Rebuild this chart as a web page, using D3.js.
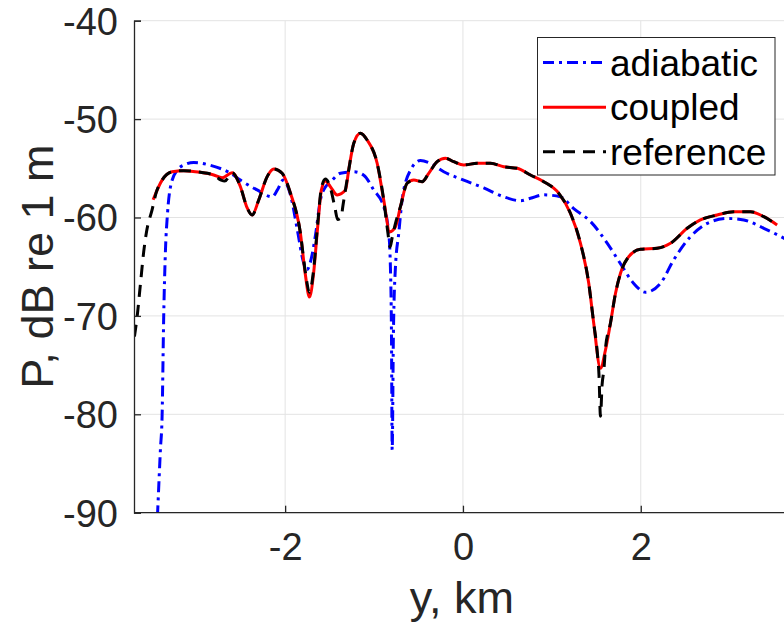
<!DOCTYPE html>
<html>
<head>
<meta charset="utf-8">
<script src="https://cdn.jsdelivr.net/npm/d3@7"></script>
<style>
  html, body { margin: 0; padding: 0; background: #ffffff; }
  svg { display: block; }
  text { font-family: "Liberation Sans", Arial, Helvetica, sans-serif; fill: #262626; }
</style>
</head>
<body>
<div id="chart"></div>
<script>
// ---------- data (y in km, P in dB re 1 m) ----------
const xTicks = [-2, 0, 2];
const yTicks = [-90, -80, -70, -60, -50, -40];
const seriesNames = ["adiabatic", "coupled", "reference"];

const adiabaticY = [-3.448, -3.433, -3.403, -3.384, -3.366, -3.346, -3.324, -3.290, -3.215, -3.121, -3.028, -2.840, -2.615, -2.503, -2.315, -2.146, -2.087, -2.022, -1.940, -1.862, -1.795, -1.753, -1.715, -1.659, -1.603, -1.547, -1.491, -1.378, -1.228, -1.116, -1.003, -0.891, -0.835, -0.816, -0.804, -0.796, -0.782, -0.759, -0.722, -0.684, -0.591, -0.478, -0.366, -0.216, 0.009, 0.234, 0.459, 0.647, 0.759, 0.909, 1.097, 1.246, 1.434, 1.622, 1.772, 1.921, 2.053, 2.221, 2.371, 2.559, 2.747, 2.972, 3.159, 3.384, 3.609, 3.706];
const adiabaticP = [-92.8, -89.7, -83.6, -80.2, -70.1, -63.3, -59.7, -56.9, -55.2, -54.6, -54.4, -54.7, -55.5, -56.2, -57.2, -57.9, -57.2, -56.2, -57.7, -61.3, -64.5, -65.3, -64.5, -61.8, -58.2, -56.9, -56.4, -55.5, -55.35, -55.7, -57.2, -58.9, -61.6, -65.0, -71.8, -83.6, -71.7, -65.0, -61.6, -58.2, -55.2, -54.2, -54.5, -55.35, -56.2, -57.0, -57.9, -58.3, -58.05, -57.7, -57.9, -59.1, -60.4, -62.6, -64.7, -66.7, -67.6, -66.7, -64.3, -61.95, -60.6, -60.1, -60.25, -61.1, -62.1, -62.6];

const coupledY = [-3.485, -3.384, -3.271, -3.141, -2.953, -2.803, -2.709, -2.596, -2.503, -2.427, -2.371, -2.297, -2.202, -2.128, -2.034, -1.940, -1.828, -1.772, -1.727, -1.682, -1.637, -1.592, -1.547, -1.491, -1.415, -1.322, -1.285, -1.228, -1.153, -1.078, -0.965, -0.891, -0.823, -0.759, -0.703, -0.628, -0.553, -0.459, -0.385, -0.290, -0.197, -0.103, 0.009, 0.160, 0.309, 0.459, 0.610, 0.759, 0.909, 1.078, 1.209, 1.322, 1.415, 1.471, 1.547, 1.603, 1.659, 1.716, 1.772, 1.865, 1.997, 2.184, 2.334, 2.522, 2.671, 2.859, 3.046, 3.234, 3.384, 3.534];
const coupledP = [-58.2, -56.2, -55.35, -55.24, -55.41, -55.68, -55.96, -55.45, -56.87, -59.03, -59.75, -58.22, -55.85, -55.07, -55.51, -57.54, -61.61, -65.84, -68.08, -65.84, -61.27, -57.2, -56.29, -56.87, -57.71, -57.21, -55.17, -52.46, -51.44, -52.12, -54.49, -58.22, -61.44, -60.93, -58.9, -56.52, -56.19, -56.36, -55.51, -54.33, -53.98, -54.33, -54.66, -54.49, -54.49, -54.84, -55.0, -55.68, -56.36, -57.54, -59.57, -62.62, -66.69, -70.75, -75.33, -73.47, -70.75, -67.7, -65.67, -63.98, -63.23, -63.13, -62.62, -61.1, -60.25, -59.75, -59.41, -59.41, -59.92, -60.76];

const referenceY = [-3.695, -3.665, -3.627, -3.591, -3.56, -3.496, -3.448, -3.384, -3.271, -3.141, -2.953, -2.803, -2.72, -2.68, -2.596, -2.503, -2.427, -2.371, -2.297, -2.202, -2.128, -2.034, -1.940, -1.828, -1.772, -1.727, -1.682, -1.637, -1.592, -1.547, -1.491, -1.44, -1.41, -1.37, -1.35, -1.322, -1.285, -1.228, -1.153, -1.078, -0.965, -0.891, -0.845, -0.82, -0.795, -0.759, -0.703, -0.628, -0.553, -0.459, -0.385, -0.290, -0.197, -0.103, 0.009, 0.160, 0.309, 0.459, 0.610, 0.759, 0.909, 1.078, 1.209, 1.322, 1.415, 1.471, 1.51, 1.53, 1.547, 1.565, 1.585, 1.603, 1.659, 1.716, 1.772, 1.865, 1.997, 2.184, 2.334, 2.522, 2.671, 2.859, 3.046, 3.234, 3.384, 3.534];
const referenceP = [-72.1, -70.1, -66.7, -63.5, -61.5, -59.2, -57.4, -56.2, -55.35, -55.24, -55.41, -55.68, -56.2, -56.3, -55.45, -56.87, -59.03, -59.75, -58.22, -55.85, -55.07, -55.51, -57.54, -61.61, -65.6, -67.6, -65.5, -61.0, -57.0, -56.1, -57.0, -59.0, -60.2, -60.0, -58.8, -57.2, -55.17, -52.46, -51.44, -52.12, -54.49, -58.22, -61.5, -63.0, -62.0, -60.6, -58.9, -56.52, -56.19, -56.36, -55.51, -54.33, -53.98, -54.33, -54.66, -54.49, -54.49, -54.84, -55.0, -55.68, -56.36, -57.54, -59.57, -62.62, -66.69, -70.75, -73.6, -76.0, -80.2, -77.0, -75.5, -73.3, -70.75, -67.7, -65.67, -63.98, -63.23, -63.13, -62.62, -61.1, -60.25, -59.75, -59.41, -59.41, -59.92, -60.76];

// ---------- layout ----------
const W = 784, H = 628;
const plot = { left: 134, top: 20.7, right: 791.9, bottom: 512.7 };

const svg = d3.select("#chart").append("svg")
  .attr("width", W).attr("height", H);

const x = d3.scaleLinear().domain([-3.7, 3.7]).range([plot.left, plot.right]);
const y = d3.scaleLinear().domain([-90, -40]).range([plot.bottom, plot.top]);

// grid
const grid = svg.append("g");
grid.selectAll("line.vx").data(xTicks).enter().append("line")
  .attr("x1", d => x(d)).attr("x2", d => x(d))
  .attr("y1", plot.top).attr("y2", plot.bottom)
  .attr("stroke", "#e3e3e3").attr("stroke-width", 1);
grid.selectAll("line.hy").data(yTicks).enter().append("line")
  .attr("x1", plot.left).attr("x2", plot.right)
  .attr("y1", d => y(d)).attr("y2", d => y(d))
  .attr("stroke", "#e3e3e3").attr("stroke-width", 1);

// clip
svg.append("clipPath").attr("id", "clip").append("rect")
  .attr("x", plot.left).attr("y", plot.top)
  .attr("width", plot.right - plot.left).attr("height", plot.bottom - plot.top);

const line = d3.line().x(d => x(d[0])).y(d => y(d[1])).curve(d3.curveMonotoneX);

const styles = {
  adiabatic: { color: "#0000ff", dash: "11,5,3,5", width: 3 },
  coupled:   { color: "#ff0000", dash: null, width: 3 },
  reference: { color: "#000000", dash: "12,8", width: 3 }
};

const series = [
  { name: "adiabatic", pts: d3.zip(adiabaticY, adiabaticP) },
  { name: "coupled",   pts: d3.zip(coupledY, coupledP) },
  { name: "reference", pts: d3.zip(referenceY, referenceP) }
];

const lines = svg.append("g").attr("clip-path", "url(#clip)");
series.forEach(s => {
  const st = styles[s.name];
  lines.append("path")
    .attr("d", line(s.pts))
    .attr("fill", "none")
    .attr("stroke", st.color)
    .attr("stroke-width", st.width)
    .attr("stroke-dasharray", st.dash)
    .attr("stroke-linejoin", "round");
});

// axes
const xAxis = d3.axisBottom(x).tickValues(xTicks).tickSize(-7).tickPadding(20).tickFormat(d => String(d));
const yAxis = d3.axisLeft(y).tickValues(yTicks).tickSize(-7).tickPadding(16).tickFormat(d => String(d));

const gx = svg.append("g").attr("transform", `translate(0,${plot.bottom})`).call(xAxis);
const gy = svg.append("g").attr("transform", `translate(${plot.left},0)`).call(yAxis);
[gx, gy].forEach(g => {
  g.select(".domain").attr("stroke", "#262626").attr("stroke-width", 1.3);
  g.selectAll(".tick line").attr("stroke", "#262626").attr("stroke-width", 1.3);
  g.selectAll(".tick text").attr("fill", "#262626")
    .style("font-family", '"Liberation Sans", Arial, sans-serif')
    .style("font-size", "38px");
});
gx.select(".domain").attr("d", `M${plot.left},0H${W + 10}`);
gx.selectAll(".tick text").attr("dy", "0.71em");
gy.selectAll(".tick text").attr("dy", "0.35em");

// axis labels
svg.append("text")
  .attr("x", x(0) - 1).attr("y", 613)
  .attr("text-anchor", "middle")
  .style("font-size", "45px")
  .text("y, km");
svg.append("text")
  .attr("transform", `translate(53,${(plot.top + plot.bottom) / 2}) rotate(-90)`)
  .attr("text-anchor", "middle")
  .style("font-size", "45px")
  .text("P, dB re 1 m");

// legend
const leg = svg.append("g");
leg.append("rect")
  .attr("x", 537.5).attr("y", 37.5).attr("width", 237.5).attr("height", 137.5)
  .attr("fill", "#ffffff").attr("stroke", "#262626").attr("stroke-width", 1);
const rowY = [62.5, 107.3, 151.8];
seriesNames.forEach((n, i) => {
  const st = styles[n];
  leg.append("line")
    .attr("x1", 543).attr("x2", 606).attr("y1", rowY[i]).attr("y2", rowY[i])
    .attr("stroke", st.color).attr("stroke-width", st.width)
    .attr("stroke-dasharray", st.dash);
  leg.append("text")
    .attr("x", 610).attr("y", rowY[i] + 13)
    .style("font-size", "37px")
    .style("fill", "#000000")
    .text(n);
});
</script>
</body>
</html>
